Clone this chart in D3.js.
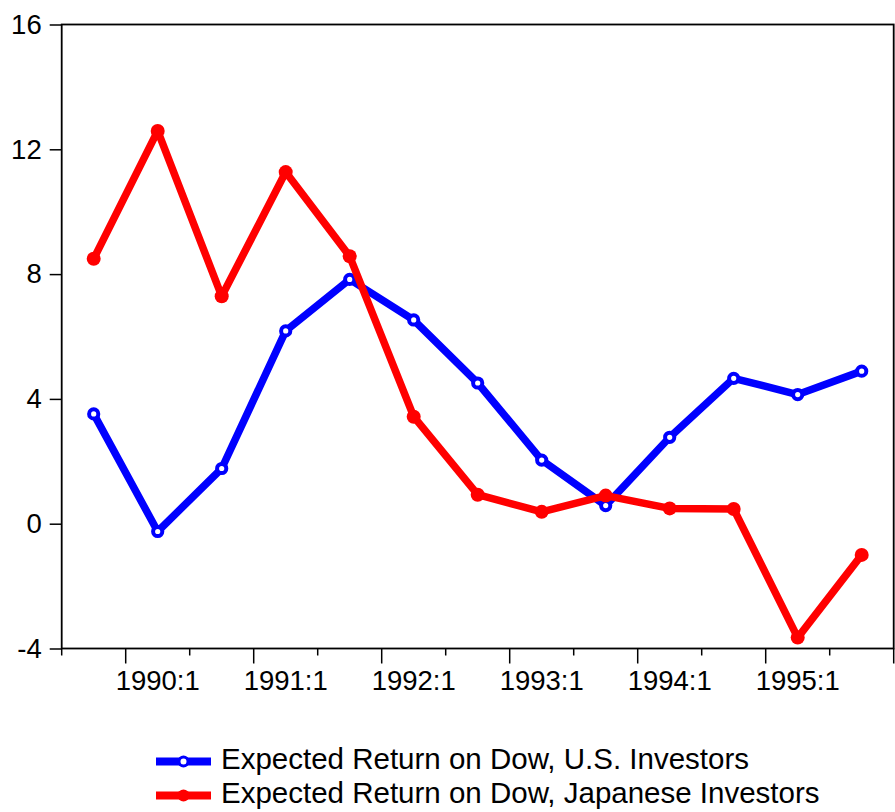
<!DOCTYPE html>
<html lang="en">
<head>
  <meta charset="UTF-8">
  <title>Expected Return on Dow</title>
  <script src="https://d3js.org/d3.v7.min.js"></script>
  <style>
    body {
      margin: 0;
      background: #fff;
      font-family: "Liberation Sans", Arial, sans-serif;
    }
    .axis text {
      font-family: "Liberation Sans", Arial, sans-serif;
      font-size: 27.5px;
      fill: #000;
    }
    .axis path, .axis line {
      stroke: #000;
      stroke-width: 1.5;
    }
    .legend text {
      font-size: 29.5px;
      fill: #000;
    }
  </style>
</head>
<body>
  <svg width="895" height="812"></svg>

  <script>
    // semi-annual observations
    const periods = ["1989:2",
      "1990:1", "1990:2", "1991:1", "1991:2", "1992:1", "1992:2",
      "1993:1", "1993:2", "1994:1", "1994:2", "1995:1", "1995:2"];

    const usReturn = [3.52, -0.25, 1.77, 6.18, 7.83, 6.53, 4.51, 2.04, 0.58, 2.77, 4.66, 4.14, 4.89];
    const jpReturn = [8.49, 12.59, 7.29, 11.27, 8.57, 3.43, 0.93, 0.38, 0.9, 0.49, 0.47, -3.65, -1.0];

    const yTicks = [-4, 0, 4, 8, 12, 16];

    const seriesNames = ["Expected Return on Dow, U.S. Investors",
                         "Expected Return on Dow, Japanese Investors"];

    const svg = d3.select("svg"),
          margin = {top: 24.5, right: 1.3, bottom: 163.5, left: 61.7},
          width = +svg.attr("width") - margin.left - margin.right,
          height = +svg.attr("height") - margin.top - margin.bottom;

    const g = svg.append("g")
                 .attr("transform", `translate(${margin.left},${margin.top})`);

    const x = d3.scaleBand()
                .domain(periods)
                .range([0, width]);

    const y = d3.scaleLinear()
                .domain([-4, 16])
                .range([height, 0]);

    const cx = p => x(p) + x.bandwidth() / 2;

    // frame
    g.append("rect")
      .attr("width", width)
      .attr("height", height)
      .attr("fill", "none")
      .attr("stroke", "#000")
      .attr("stroke-width", 1.8);

    // Y axis
    g.append("g")
      .attr("class", "axis")
      .call(d3.axisLeft(y).tickValues(yTicks).tickSize(12).tickPadding(8)
              .tickSizeOuter(0).tickFormat(d => String(d)))
      .call(a => a.select(".domain").remove());

    // X axis: ticks on period boundaries, long ones at year start
    const bounds = periods.map(p => x(p)).concat([width]);
    const xAxis = g.append("g")
      .attr("class", "axis")
      .attr("transform", `translate(0,${height})`);

    xAxis.selectAll("line")
      .data(bounds)
      .enter()
      .append("line")
        .attr("x1", d => d)
        .attr("x2", d => d)
        .attr("y1", 0)
        .attr("y2", (d, i) => (i === periods.length || periods[i].endsWith(":1")) ? 15 : 7);

    xAxis.selectAll("text")
      .data(periods.filter(p => p.endsWith(":1")))
      .enter()
      .append("text")
        .attr("x", d => cx(d))
        .attr("y", 41)
        .attr("text-anchor", "middle")
        .text(d => d);

    const line = d3.line()
                   .x((d, i) => cx(periods[i]))
                   .y(d => y(d));

    // U.S. series
    g.append("path")
      .datum(usReturn)
      .attr("fill", "none")
      .attr("stroke", "#0000ff")
      .attr("stroke-width", 7.5)
      .attr("stroke-linejoin", "round")
      .attr("d", line);

    g.selectAll(".us-dot")
      .data(usReturn)
      .enter()
      .append("circle")
        .attr("class", "us-dot")
        .attr("cx", (d, i) => cx(periods[i]))
        .attr("cy", d => y(d))
        .attr("r", 4.6)
        .attr("fill", "#fff")
        .attr("stroke", "#0000ff")
        .attr("stroke-width", 4);

    // Japanese series
    g.append("path")
      .datum(jpReturn)
      .attr("fill", "none")
      .attr("stroke", "#ff0000")
      .attr("stroke-width", 7.5)
      .attr("stroke-linejoin", "round")
      .attr("d", line);

    g.selectAll(".jp-dot")
      .data(jpReturn)
      .enter()
      .append("circle")
        .attr("class", "jp-dot")
        .attr("cx", (d, i) => cx(periods[i]))
        .attr("cy", d => y(d))
        .attr("r", 7)
        .attr("fill", "#ff0000");

    // Legend
    const legend = svg.append("g").attr("class", "legend");
    const legendItems = [
      {name: seriesNames[0], color: "#0000ff", hollow: true},
      {name: seriesNames[1], color: "#ff0000", hollow: false}
    ];

    const row = legend.selectAll("g")
      .data(legendItems)
      .enter()
      .append("g")
        .attr("transform", (d, i) => `translate(156,${761.5 + i * 34})`);

    row.append("line")
      .attr("x1", 0).attr("x2", 55)
      .attr("stroke", d => d.color)
      .attr("stroke-width", 8);

    row.append("circle")
      .attr("cx", 27.5)
      .attr("r", d => d.hollow ? 4.5 : 6)
      .attr("fill", d => d.hollow ? "#fff" : d.color)
      .attr("stroke", d => d.color)
      .attr("stroke-width", d => d.hollow ? 3 : 0);

    row.append("text")
      .attr("x", 65)
      .attr("y", 7.5)
      .text(d => d.name);
  </script>
</body>
</html>
